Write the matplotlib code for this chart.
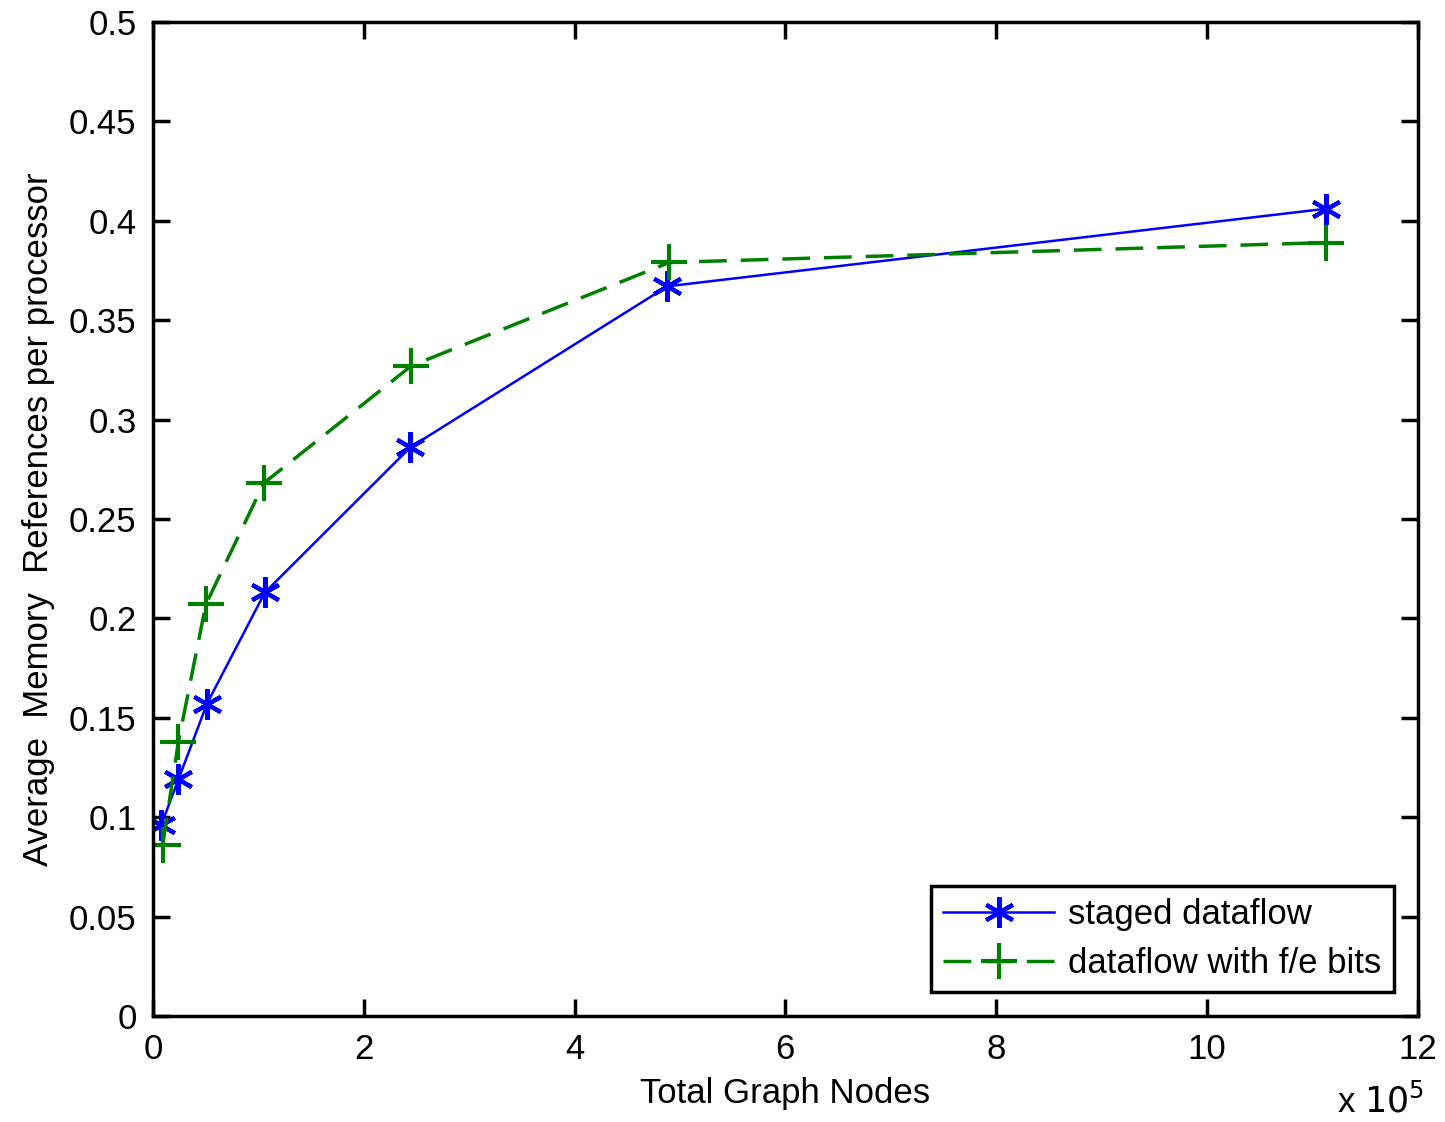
import matplotlib.pyplot as plt

plt.rcParams['font.family'] = ['Liberation Sans', 'DejaVu Sans']

# Total graph nodes (x 10^5)
nodes_staged = [0.076, 0.24, 0.51, 1.06, 2.44, 4.88, 11.13]
refs_staged = [0.096, 0.119, 0.157, 0.213, 0.286, 0.367, 0.406]

nodes_fe = [0.09, 0.24, 0.50, 1.05, 2.45, 4.90, 11.13]
refs_fe = [0.086, 0.138, 0.207, 0.268, 0.327, 0.379, 0.389]

fig = plt.figure(figsize=(14.45, 11.22), dpi=100)
ax = fig.add_axes([0.106, 0.0945, 0.875, 0.886])

ax.plot(nodes_staged, refs_staged, color='#0000ff', linestyle='-', linewidth=1.8,
        marker=(6, 2, 0), markersize=22, markeredgewidth=3, label='staged dataflow')
ax.plot(nodes_fe, refs_fe, color='#007f00', linestyle=(0, (8, 4)), linewidth=2.5,
        marker='+', markersize=26, markeredgewidth=3, label='dataflow with f/e bits')

ax.set_xlim(0, 12)
ax.set_ylim(0, 0.5)
ax.set_xticks(range(0, 13, 2))
ax.set_yticks([i * 0.05 for i in range(11)])
ax.set_yticklabels(['0', '0.05', '0.1', '0.15', '0.2', '0.25', '0.3', '0.35', '0.4', '0.45', '0.5'])

ax.tick_params(direction='in', length=12, width=2.5, labelsize=25, top=True, right=True, pad=12)
for s in ax.spines.values():
    s.set_linewidth(2.5)

ax.set_xlabel('Total Graph Nodes', fontsize=25, labelpad=8)
ax.set_ylabel('Average  Memory  References per processor', fontsize=25, labelpad=10)
fig.text(0.955, 0.002, r'x $10^5$', fontsize=25, ha='center', va='bottom')

leg = ax.legend(loc='lower right', bbox_to_anchor=(0.981, 0.024), fontsize=25, frameon=True,
                fancybox=False, edgecolor='black', framealpha=1, handlelength=3.2,
                borderpad=0.35, labelspacing=0.45, handletextpad=0.4, borderaxespad=0)
leg.get_frame().set_linewidth(2.5)

fig.savefig('out.png', dpi=100)
